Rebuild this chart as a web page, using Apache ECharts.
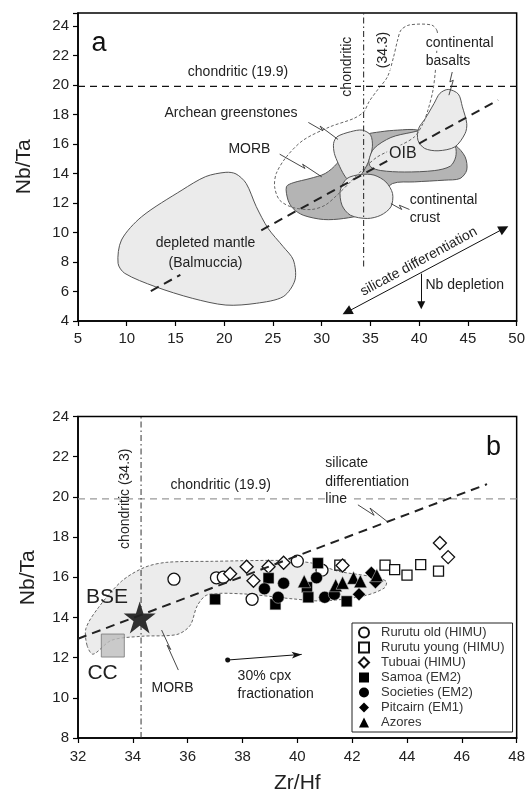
<!DOCTYPE html>
<html>
<head>
<meta charset="utf-8">
<script src="https://cdn.jsdelivr.net/npm/echarts@6/dist/echarts.min.js"></script>
<style>
  html, body { margin: 0; padding: 0; background: #fff; }
  #chart { width: 528px; height: 798px; }
</style>
</head>
<body>
<div id="chart"></div>
<script>
const FONT = '"Liberation Sans", Arial, Helvetica, sans-serif';

// ---- panel a : fields (Zr/Hf, Nb/Ta) ----
const depletedMantle = [[20.17,14.08],[21.21,13.97],[22.25,13.33],[23.29,11.75],[24.5,10.28],[26.05,9.04],[27.09,8.14],[27.26,6.78],[26.05,5.65],[23.29,5.2],[20.17,5.08],[16.72,5.54],[12.92,6.33],[9.8,7.23],[9.11,7.91],[9.46,9.49],[11.53,11.07],[15.68,12.88],[18.1,13.79]];
const morbA = [[26.38,13.1],[27.07,13.37],[28.8,13.66],[30.36,14.0],[31.57,14.68],[32.6,15.81],[34.33,16.6],[36.06,16.83],[37.79,16.94],[39.87,16.94],[41.94,16.26],[43.67,15.92],[44.71,15.13],[44.88,14.23],[44.19,13.66],[42.63,13.55],[39.52,13.43],[37.27,13.32],[36.06,12.42],[34.33,11.29],[32.26,10.95],[30.18,10.88],[28.11,11.17],[27.07,11.62],[26.55,12.19]];
const greenstones = [[31.57,16.49],[32.95,16.83],[34.16,16.94],[35.02,16.6],[35.2,15.81],[34.85,14.9],[34.33,14.2],[33.5,13.5],[32.9,13.45],[32.3,13.9],[31.7,14.68],[31.3,15.36],[31.22,16.04]];
const oib = [[34.85,14.9],[35.37,15.7],[37.1,16.44],[39.17,16.78],[40.9,16.94],[42.98,16.26],[43.7,15.85],[43.75,15.13],[43.2,14.5],[41.6,14.2],[38.48,14.1],[36.06,14.2],[35.02,14.45]];
const basalts = [[42.98,19.7],[44.02,19.38],[44.43,18.52],[44.88,17.39],[44.71,16.71],[43.67,15.81],[41.94,15.54],[40.56,15.7],[39.87,16.26],[39.94,17.05],[40.63,17.73],[41.53,18.75],[42.12,19.43]];
const crust = [[31.91,12.87],[32.6,13.66],[33.99,13.93],[35.37,13.89],[36.58,13.43],[37.27,12.64],[37.1,11.74],[36.06,11.17],[34.68,10.95],[32.95,11.17],[32.08,11.85]];
const dashLoop = [[41.84,23.66],[41.25,24.07],[39.0,24.07],[38.14,23.73],[37.79,23.05],[37.38,21.92],[36.75,20.56],[35.72,19.66],[34.85,18.86],[34.33,18.19],[33.29,17.73],[30.87,17.17],[28.11,16.26],[26.38,15.13],[25.34,14.0],[25.17,13.1],[25.69,12.19],[27.07,11.69],[28.97,11.56],[30.35,11.85],[31.57,12.53],[32.95,13.43],[34.33,14.34],[35.72,15.13],[37.79,15.81],[39.52,16.49],[40.39,17.39],[40.9,18.3],[41.42,19.66],[41.7,21.24],[41.84,22.82]];

const chondHA = [[5,19.9],[50,19.9]];
const chondVA = [[34.3,7.7],[34.3,24.88]];
const trendA1 = [[12.47,6.03],[15.5,7.13]];
const trendA2 = [[23.8,10.15],[48.1,18.98]];
const leaderGreen = [[28.63,17.46],[30.11,16.9],[29.84,17.21],[31.67,16.31]];
const leaderMorbA = [[25.69,15.31],[28.28,14.34],[28.04,14.63],[30.01,13.77]];
const leaderBasalts = [[43.39,20.88],[43.15,20.21],[43.5,20.32],[43.05,19.31]];
const leaderCrust = [[37.1,11.96],[38.21,11.56],[37.96,11.85],[39.0,11.56]];
const sdArrow = [[32.6,4.61],[48.69,10.27]];
const nbArrow = [[40.21,7.21],[40.21,5.06]];

// ---- panel b : ocean island basalts ----
const rurutuOld = [[35.5,15.9],[37.05,15.97],[37.3,16.0],[38.35,14.9],[40.0,16.8],[40.9,16.35]];
const rurutuYoung = [[41.55,16.6],[43.2,16.6],[43.55,16.38],[44.0,16.1],[44.5,16.63],[45.15,16.3]];
const tubuai = [[37.55,16.17],[38.15,16.52],[38.4,15.82],[38.95,16.52],[39.5,16.72],[41.65,16.58],[45.2,17.7],[45.5,17.0]];
const samoa = [[37.0,14.9],[38.95,15.95],[39.2,14.65],[40.75,16.7],[40.35,15.5],[40.4,15.0],[41.8,14.8]];
const societies = [[38.8,15.42],[39.5,15.7],[39.3,15.0],[40.7,15.97],[41.0,15.0],[41.35,15.15]];
const pitcairn = [[42.25,15.15],[42.7,16.22],[42.85,15.75]];
const azores = [[40.25,15.8],[41.4,15.6],[41.65,15.72],[42.05,15.97],[42.3,15.8],[42.9,16.1]];
const bse = [[34.25,14.0]];
const cc = [[33.27,12.6]];
const morbB = [[32.33,12.61],[32.29,13.45],[32.74,14.48],[33.59,15.8],[34.43,16.49],[35.24,16.74],[36.9,16.79],[39.48,16.83],[40.59,16.69],[41.51,16.29],[42.62,16.05],[43.24,15.8],[43.17,15.46],[42.43,15.07],[40.96,14.82],[39.85,14.92],[38.01,15.17],[36.72,15.12],[36.35,14.58],[36.09,13.6],[35.61,13.15],[34.32,13.06],[33.22,12.86],[32.55,12.17]];
const chondHB = [[32,19.9],[48,19.9]];
const chondVB = [[34.3,8],[34.3,24]];
const trendB = [[32.0,12.94],[46.92,20.63]];
const leaderLine = [[42.21,19.6],[42.8,19.08],[42.65,19.44],[43.27,18.78]];
const leaderMorbB = [[35.05,13.37],[35.38,12.4],[35.25,12.62],[35.66,11.38]];
const cpxArrow = [[37.46,11.88],[40.16,12.16]];

const xTicksA = { min: 5, max: 50, interval: 5 };
const yTicksA = { min: 4, max: 24.88, interval: 2 };
const xTicksB = { min: 32, max: 48, interval: 2 };
const yTicksB = { min: 8, max: 24, interval: 2 };

const chart = echarts.init(document.getElementById('chart'));

function field(pts, idx, fill, stroke, dash, smooth) {
  return {
    type: 'custom', xAxisIndex: idx, yAxisIndex: idx, silent: true,
    data: [pts[0]],
    renderItem: function (params, api) {
      return {
        type: 'polygon',
        shape: { points: pts.map(function (p) { return api.coord(p); }), smooth: smooth },
        style: { fill: fill, stroke: stroke, lineWidth: 1, lineDash: dash }
      };
    }
  };
}

function seg(pts, idx, color, width, dash) {
  return {
    type: 'line', xAxisIndex: idx, yAxisIndex: idx, data: pts, silent: true,
    showSymbol: false, symbol: 'none', animation: false,
    lineStyle: { color: color, width: width, type: dash || 'solid' }
  };
}

function arrow(pts, idx, symbols, sizes) {
  return {
    type: 'line', xAxisIndex: idx, yAxisIndex: idx, data: [], silent: true,
    markLine: {
      silent: true, symbol: symbols, symbolSize: sizes, animation: false,
      label: { show: false },
      lineStyle: { color: '#111', width: 1, type: 'solid' },
      data: [[{ coord: pts[0] }, { coord: pts[1] }]]
    }
  };
}

function pts(name, data, symbol, size, open) {
  return {
    type: 'scatter', name: name, xAxisIndex: 1, yAxisIndex: 1, data: data,
    symbol: symbol, symbolSize: size, silent: true,
    itemStyle: open ? { color: '#fff', borderColor: '#111', borderWidth: 1.3, opacity: 1 }
                    : { color: '#000', borderColor: '#ddd', borderWidth: 0.5, opacity: 1 }
  };
}

function txt(x, y, s, opt) {
  return {
    type: 'text', x: x, y: y, z: 100, rotation: (opt && opt.rot) || 0,
    style: Object.assign({ text: s, font: '14px ' + FONT, fill: '#222', align: 'center', verticalAlign: 'middle' }, opt && opt.style)
  };
}

const axisCommon = {
  type: 'value',
  axisLine: { show: true, lineStyle: { color: '#000', width: 1.5 } },
  axisTick: { show: true, length: 5, lineStyle: { color: '#000', width: 1.2 } },
  splitLine: { show: false },
  axisLabel: { color: '#222', fontSize: 15, fontFamily: FONT }
};

const STAR = 'path://M50,0 L61.2,34.5 L97.6,34.5 L68.2,55.9 L79.4,90.5 L50,69.1 L20.6,90.5 L31.8,55.9 L2.4,34.5 L38.8,34.5 Z';

const names = ['Rurutu old (HIMU)', 'Rurutu young (HIMU)', 'Tubuai (HIMU)', 'Samoa (EM2)', 'Societies (EM2)', 'Pitcairn (EM1)', 'Azores'];
const legendData = names.map(function (n, i) {
  return i < 3 ? { name: n } : { name: n, itemStyle: { color: '#000', borderColor: '#000', borderWidth: 0 } };
});

chart.setOption({
  animation: false,
  backgroundColor: '#fff',
  grid: [
    { left: 78, top: 13, width: 439, height: 308, show: true, borderColor: '#000', borderWidth: 1.5, backgroundColor: 'transparent' },
    { left: 78, top: 416.4, width: 439, height: 321.6, show: true, borderColor: '#000', borderWidth: 1.5, backgroundColor: 'transparent' }
  ],
  xAxis: [
    Object.assign({}, axisCommon, xTicksA, { gridIndex: 0, axisLabel: Object.assign({}, axisCommon.axisLabel, { margin: 10 }) }),
    Object.assign({}, axisCommon, xTicksB, { gridIndex: 1, axisLabel: Object.assign({}, axisCommon.axisLabel, { margin: 11 }) })
  ],
  yAxis: [
    Object.assign({}, axisCommon, yTicksA, { gridIndex: 0, axisLabel: Object.assign({}, axisCommon.axisLabel, { margin: 9, formatter: function (v) { return v > 24.01 ? '' : v; } }) }),
    Object.assign({}, axisCommon, yTicksB, { gridIndex: 1, axisLabel: Object.assign({}, axisCommon.axisLabel, { margin: 9 }) })
  ],
  legend: {
    data: legendData, orient: 'vertical', left: 352, top: 623, selectedMode: false,
    itemWidth: 10, itemHeight: 10, itemGap: 2, padding: [3, 8, 3, 6],
    borderColor: '#222', borderWidth: 1, backgroundColor: '#fff',
    textStyle: { fontSize: 13, color: '#333', fontFamily: FONT, lineHeight: 13, padding: [0, 0, 0, 7] }
  },
  series: [
    // panel a
    field(depletedMantle, 0, '#ebebeb', '#555', null, 0.3),
    field(morbA, 0, '#b4b4b4', '#555', null, 0.3),
    field(greenstones, 0, '#ebebeb', '#555', null, 0.3),
    field(oib, 0, '#ebebeb', '#555', null, 0.3),
    field(basalts, 0, '#ebebeb', '#555', null, 0.3),
    field(crust, 0, '#ebebeb', '#555', null, 0.3),
    field(dashLoop, 0, 'none', '#666', [3, 2], 0.3),
    seg(chondHA, 0, '#111', 1.3, [7, 5]),
    seg(chondVA, 0, '#333', 1.1, [6, 3, 1.5, 3]),
    seg(trendA1, 0, '#222', 2, [9, 6]),
    seg(trendA2, 0, '#222', 2, [9, 6]),
    seg(leaderGreen, 0, '#333', 0.9),
    seg(leaderMorbA, 0, '#333', 0.9),
    seg(leaderBasalts, 0, '#333', 0.9),
    seg(leaderCrust, 0, '#333', 0.9),
    arrow(sdArrow, 0, ['triangle', 'triangle'], [10, 10]),
    arrow(nbArrow, 0, ['none', 'triangle'], [8, 8]),
    // panel b
    field(morbB, 1, '#ececec', '#666', [3, 2], 0.3),
    seg(chondHB, 1, '#999', 1.3, [7, 5]),
    seg(chondVB, 1, '#333', 1.0, [6, 3, 1.5, 3]),
    seg(trendB, 1, '#222', 2, [9, 6]),
    seg(leaderLine, 1, '#333', 0.9),
    seg(leaderMorbB, 1, '#333', 0.9),
    arrow(cpxArrow, 1, ['circle', 'arrow'], [5, 10]),
    { type: 'scatter', xAxisIndex: 1, yAxisIndex: 1, data: cc, symbol: 'rect', symbolSize: 23, silent: true,
      itemStyle: { color: '#bdbdbd', borderColor: '#777', borderWidth: 1 } },
    { type: 'scatter', xAxisIndex: 1, yAxisIndex: 1, data: bse, symbol: STAR, symbolSize: 32, silent: true,
      itemStyle: { color: '#000' } },
    pts(names[0], rurutuOld, 'circle', 12, true),
    pts(names[1], rurutuYoung, 'rect', 10, true),
    pts(names[2], tubuai, 'diamond', 13, true),
    pts(names[3], samoa, 'rect', 11, false),
    pts(names[4], societies, 'circle', 12, false),
    pts(names[5], pitcairn, 'diamond', 13, false),
    pts(names[6], azores, 'triangle', 13, false)
  ],
  graphic: [
    // panel a labels
    txt(99, 43.3, 'a', { style: { font: '27px ' + FONT, fill: '#111' } }),
    txt(238, 71.7, 'chondritic (19.9)'),
    txt(347, 66.7, 'chondritic', { rot: Math.PI / 2, style: { backgroundColor: '#fff', padding: [1, 4] } }),
    txt(382.7, 50, '(34.3)', { rot: Math.PI / 2, style: { backgroundColor: '#fff', padding: [1, 2] } }),
    txt(424.8, 42.7, 'continental', { style: { align: 'left', backgroundColor: '#fff', padding: [1, 1] } }),
    txt(424.8, 61, 'basalts', { style: { align: 'left', backgroundColor: '#fff', padding: [1, 1] } }),
    txt(231, 113.3, 'Archean greenstones'),
    txt(249.4, 149.3, 'MORB'),
    txt(402.9, 153.3, 'OIB', { style: { font: '16px ' + FONT, backgroundColor: '#ebebeb', padding: [0, 2] } }),
    txt(409.7, 200, 'continental', { style: { align: 'left' } }),
    txt(409.7, 218.3, 'crust', { style: { align: 'left' } }),
    txt(205.5, 243.3, 'depleted mantle', { style: { backgroundColor: '#ebebeb', padding: [1, 2] } }),
    txt(205.5, 263.3, '(Balmuccia)', { style: { backgroundColor: '#ebebeb', padding: [1, 2] } }),
    txt(418.8, 261.7, 'silicate differentiation', { rot: 0.494 }),
    txt(425.5, 285, 'Nb depletion', { style: { align: 'left' } }),
    txt(24, 166.7, 'Nb/Ta', { rot: Math.PI / 2, style: { font: '21px ' + FONT } }),
    // panel b labels
    txt(493.4, 447.7, 'b', { style: { font: '27px ' + FONT, fill: '#111' } }),
    txt(220.7, 485.5, 'chondritic (19.9)'),
    txt(125.6, 498.7, 'chondritic (34.3)', { rot: Math.PI / 2 }),
    txt(325.3, 462.8, 'silicate', { style: { align: 'left' } }),
    txt(325.3, 481.9, 'differentiation', { style: { align: 'left' } }),
    txt(325.3, 499.4, 'line', { style: { align: 'left', backgroundColor: '#fff', padding: [0, 3, 0, 0] } }),
    txt(107, 596.8, 'BSE', { style: { font: '21px ' + FONT } }),
    txt(102.6, 673.2, 'CC', { style: { font: '21px ' + FONT } }),
    txt(172.5, 688, 'MORB'),
    txt(237.6, 676.5, '30% cpx', { style: { align: 'left' } }),
    txt(237.6, 694.6, 'fractionation', { style: { align: 'left' } }),
    txt(28, 577.7, 'Nb/Ta', { rot: Math.PI / 2, style: { font: '21px ' + FONT } }),
    txt(297.3, 783.5, 'Zr/Hf', { style: { font: '21px ' + FONT } })
  ]
});
</script>
</body>
</html>
